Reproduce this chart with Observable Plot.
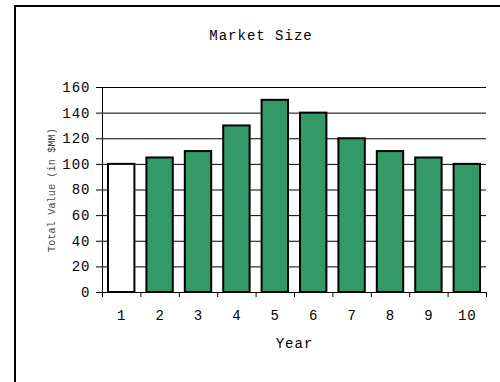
<!DOCTYPE html>
<html>
<head>
<meta charset="utf-8">
<script src="https://cdn.jsdelivr.net/npm/d3@7"></script>
<script src="https://cdn.jsdelivr.net/npm/@observablehq/plot@0.6"></script>
<style>
  html, body { margin: 0; padding: 0; background: #fff; }
  #wrap { position: relative; width: 500px; height: 382px; overflow: hidden; }
  #border { position: absolute; left: 14px; top: 5px; width: 600px; height: 600px;
            border-top: 2px solid #000; border-left: 2px solid #000; }
  #title { position: absolute; left: 0; width: 522px; top: 28px; text-align: center;
           font-family: "Liberation Mono", monospace; font-size: 14px; letter-spacing: 1px; color: #000; }
  #chart { position: absolute; left: 0; top: 0; }
  svg text { letter-spacing: 1px; }
  svg text.ylab { letter-spacing: 0.2px; }
</style>
</head>
<body>
<div id="wrap">
  <div id="border"></div>
  <div id="chart"></div>
  <div id="title">Market Size</div>
</div>
<script>
const years = [1, 2, 3, 4, 5, 6, 7, 8, 9, 10];
const values = [100, 105, 110, 130, 150, 140, 120, 110, 105, 100];
const highlight = [true, false, false, false, false, false, false, false, false, false];
const yTicks = [0, 20, 40, 60, 80, 100, 120, 140, 160];
const yLabel = "Total Value (in $MM)";
const xLabel = "Year";

const data = years.map((y, i) => ({year: y, value: values[i], first: highlight[i]}));
const boundaries = years.map(y => y - 0.5).concat([years[years.length - 1] + 0.5]);

const chart = Plot.plot({
  width: 500,
  height: 382,
  marginLeft: 102,
  marginRight: 14,
  marginTop: 87,
  marginBottom: 90,
  style: {fontFamily: "Liberation Mono, monospace", fontSize: "14px", color: "#000", background: "transparent"},
  x: {domain: [0.5, 10.5], label: null},
  y: {domain: [0, 160], label: null},
  marks: [
    Plot.gridY(yTicks.slice(1), {stroke: "#000", strokeOpacity: 1, strokeWidth: 1}),
    Plot.rectY(data, {
      x1: d => d.year - 0.5, x2: d => d.year + 0.5, y: "value",
      insetLeft: 6, insetRight: 6,
      fill: d => d.first ? "#ffffff" : "#339966",
      stroke: "#000", strokeWidth: 2
    }),
    Plot.frame({anchor: "left", stroke: "#000"}),
    Plot.frame({anchor: "bottom", stroke: "#000"}),
    Plot.axisY({ticks: yTicks, tickSize: 6, tickPadding: 6, label: null, tickFormat: d => d}),
    Plot.axisX({ticks: boundaries, tickSize: 5, tickFormat: () => "", label: null}),
    Plot.axisX({ticks: years, tickSize: 0, tickPadding: 18, label: null, tickFormat: d => d}),
    Plot.text([yLabel], {frameAnchor: "left", rotate: -90, dx: -51, textAnchor: "middle", fontSize: 10, fill: "#444", className: "ylab"}),
    Plot.text([xLabel], {frameAnchor: "bottom", dy: 51, textAnchor: "middle", lineAnchor: "middle", fontSize: 14})
  ]
});
chart.querySelectorAll("text").forEach(t => { if (t.textContent === yLabel) t.classList.add("ylab"); });
document.getElementById("chart").appendChild(chart);
</script>
</body>
</html>
